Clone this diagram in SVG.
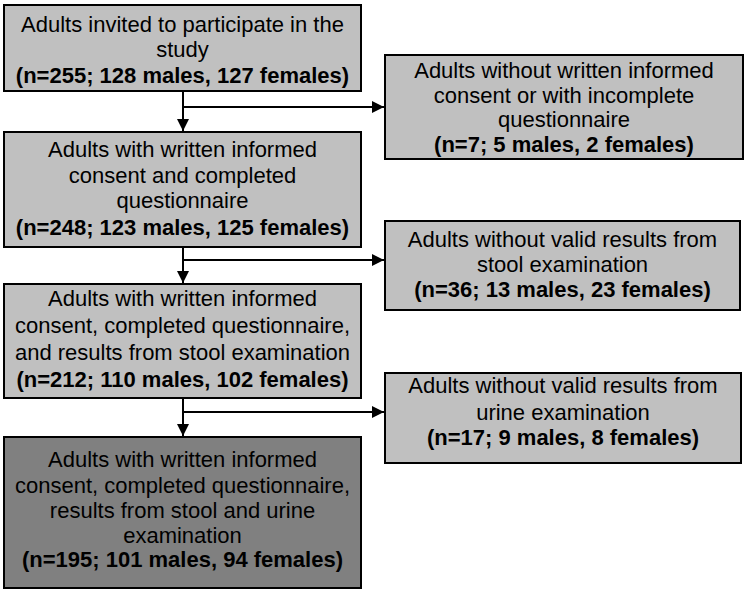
<svg xmlns="http://www.w3.org/2000/svg" width="747" height="595" viewBox="0 0 747 595">
<defs>
<style>
.box{fill:#c0c0c0;stroke:#000;stroke-width:2}
.dark{fill:#808080}
text{font-family:"Liberation Sans",Arial,Helvetica,sans-serif;font-size:22px;fill:#000;text-anchor:middle}
.b{font-weight:bold}
.conn{stroke:#000;stroke-width:2;fill:none}
</style>
<marker id="ah" viewBox="0 0 12 12" refX="12" refY="6" markerWidth="12" markerHeight="12" markerUnits="userSpaceOnUse" orient="auto">
<path d="M0,0 L12,6 L0,12 Z" fill="#000"/>
</marker>
</defs>
<rect width="747" height="595" fill="#fff"/>
<g id="n1">
<rect class="box" x="4" y="5" width="357" height="86"/>
<text x="182.5" y="32">Adults invited to participate in the</text>
<text x="182.5" y="57">study</text>
<text class="b" x="182.5" y="83">(n=255; 128 males, 127 females)</text>
</g>
<g id="r1">
<rect class="box" x="385" y="55" width="358" height="104"/>
<text x="564" y="78">Adults without written informed</text>
<text x="564" y="103">consent or with incomplete</text>
<text x="564" y="127">questionnaire</text>
<text class="b" x="564" y="152">(n=7; 5 males, 2 females)</text>
</g>
<g id="n2">
<rect class="box" x="4" y="132" width="357" height="115"/>
<text x="182.5" y="157">Adults with written informed</text>
<text x="182.5" y="183">consent and completed</text>
<text x="182.5" y="208">questionnaire</text>
<text class="b" x="182.5" y="235">(n=248; 123 males, 125 females)</text>
</g>
<g id="r2">
<rect class="box" x="385" y="221" width="355" height="89"/>
<text x="562.5" y="247">Adults without valid results from</text>
<text x="562.5" y="272">stool examination</text>
<text class="b" x="562.5" y="297">(n=36; 13 males, 23 females)</text>
</g>
<g id="n3">
<rect class="box" x="4" y="284" width="357" height="114"/>
<text x="182.5" y="306">Adults with written informed</text>
<text x="182.5" y="333">consent, completed questionnaire,</text>
<text x="182.5" y="360">and results from stool examination</text>
<text class="b" x="182.5" y="387">(n=212; 110 males, 102 females)</text>
</g>
<g id="r3">
<rect class="box" x="385" y="373" width="356" height="90"/>
<text x="563" y="393">Adults without valid results from</text>
<text x="563" y="420">urine examination</text>
<text class="b" x="563" y="445">(n=17; 9 males, 8 females)</text>
</g>
<g id="n4">
<rect class="box dark" x="4" y="437" width="357" height="151"/>
<text x="182.5" y="467">Adults with written informed</text>
<text x="182.5" y="493">consent, completed questionnaire,</text>
<text x="182.5" y="518">results from stool and urine</text>
<text x="182.5" y="543">examination</text>
<text class="b" x="182.5" y="567">(n=195; 101 males, 94 females)</text>
</g>
<g id="connectors">
<path class="conn" d="M183,91 V131" marker-end="url(#ah)"/>
<path class="conn" d="M183,107 H384" marker-end="url(#ah)"/>
<path class="conn" d="M183,247 V283" marker-end="url(#ah)"/>
<path class="conn" d="M183,260 H384" marker-end="url(#ah)"/>
<path class="conn" d="M183,398 V436" marker-end="url(#ah)"/>
<path class="conn" d="M183,412 H384" marker-end="url(#ah)"/>
</g>
</svg>
